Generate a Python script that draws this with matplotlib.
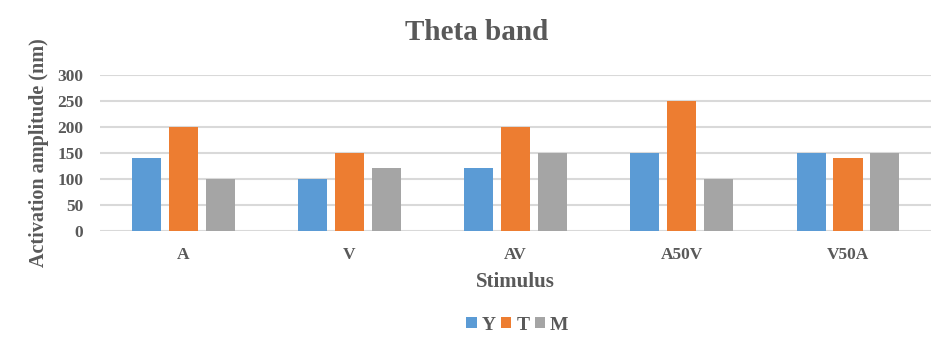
import matplotlib
matplotlib.use("Agg")
import matplotlib.pyplot as plt
import numpy as np

categories = ["A", "V", "AV", "A50V", "V50A"]
y_vals = [140, 100, 120, 150, 150]
t_vals = [200, 150, 200, 250, 140]
m_vals = [100, 120, 150, 100, 150]

series = [("Y", y_vals, "#5B9BD5"), ("T", t_vals, "#ED7D31"), ("M", m_vals, "#A5A5A5")]
text_color = "#595959"

plt.rcParams['font.family'] = ['Liberation Serif', 'DejaVu Serif']
plt.rcParams['font.weight'] = 'bold'

fig = plt.figure(figsize=(9.53, 3.64), dpi=100)
ax = fig.add_axes([0.105, 0.366, 0.872, 0.429])

x = np.arange(len(categories))
width = 0.175
step = 0.222
for i, (name, vals, color) in enumerate(series):
    ax.bar(x + (i - 1) * step, vals, width, color=color, label=name, zorder=3)

ax.set_xlim(-0.5, len(categories) - 0.5)
ax.set_ylim(0, 300)
ax.set_yticks(range(0, 301, 50))
ax.set_xticks(x)
ax.set_xticklabels(categories)
ax.grid(axis='y', color='#D9D9D9', linewidth=1.5, zorder=0)
for s in ax.spines.values():
    s.set_visible(False)
ax.tick_params(length=0, labelsize=12.5, labelcolor=text_color)
ax.tick_params(axis='y', pad=12)
ax.tick_params(axis='x', pad=12)
for lbl in ax.get_xticklabels() + ax.get_yticklabels():
    lbl.set_fontweight('bold')

fig.text(0.5, 0.912, "Theta band", fontsize=21, fontweight='bold', color=text_color,
         ha='center', va='center')
ax.set_xlabel("Stimulus", fontsize=15, fontweight='bold', color=text_color, labelpad=6)
ax.set_ylabel("Activation amplitude (nm)", fontsize=14.5, fontweight='bold', color=text_color, labelpad=6)

leg = fig.legend(loc='center', bbox_to_anchor=(0.543, 0.107), ncol=3, frameon=False,
                 handlelength=0.52, handleheight=0.52, handletextpad=0.25, columnspacing=0.3,
                 prop={'size': 14, 'weight': 'bold'})
for t in leg.get_texts():
    t.set_color(text_color)

fig.savefig("out.png", dpi=100)
